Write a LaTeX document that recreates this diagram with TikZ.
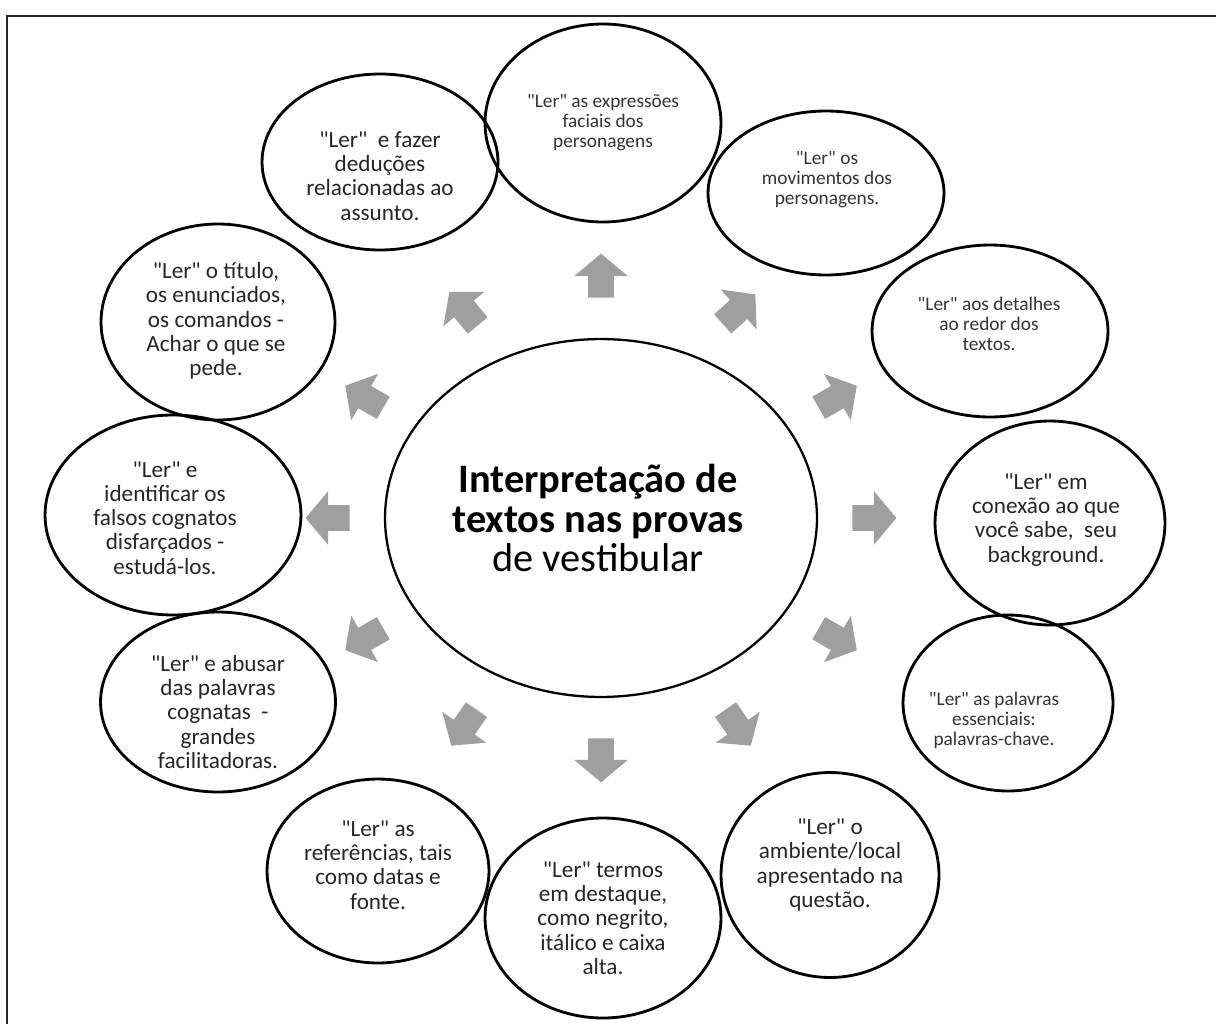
\documentclass[tikz,border=0pt]{standalone}
\usepackage{fontspec}
\setmainfont{Carlito}[Ligatures=TeXOff]
\usetikzlibrary{shapes.geometric,shapes.arrows}

\tikzset{
  bubble/.style 2 args={ellipse, draw=black, line width=1.6pt, inner sep=0pt, minimum width=#1, minimum height=#2},
  smalltxt/.style={align=center, text=black!80, font=\fontsize{11}{11.4}\selectfont},
  bigtxt/.style={align=center, text=black!85, font=\fontsize{13.2}{13.8}\selectfont},
  blockarrow/.style={single arrow, fill=gray!75, draw=none, inner xsep=0pt, inner ysep=0.25cm, minimum height=0.88cm, single arrow head extend=0.28cm, single arrow tip angle=100},
}

\begin{document}
\begin{tikzpicture}[x=0.02cm,y=-0.02cm]
\useasboundingbox (0,0) rectangle (1216,1024);
% frame
\draw[line width=1.7pt, black!85] (7,1024) -- (7,16) -- (1216,16);

% centre
\node[bubble={8.64cm}{7.16cm}, line width=1.3pt] (c) at (601,518) {};
\node[align=center, font=\fontsize{23}{22.5}\selectfont] (ct) at (598,518) {\textbf{Interpretação de}\\\textbf{textos nas provas}\\de vestibular};

% bubbles
\node[bubble={4.72cm}{3.96cm}] (e1) at (603,123) {};
\node[bubble={4.72cm}{3.28cm}] (e2) at (826,193) {};
\node[bubble={4.72cm}{3.44cm}] (e3) at (990,331) {};
\node[bubble={4.60cm}{4.08cm}] (e4) at (1050,523) {};
\node[bubble={4.20cm}{3.52cm}] (e5) at (1008,703) {};
\node[bubble={4.36cm}{4.10cm}] (e6) at (830,875) {};
\node[bubble={4.72cm}{4.00cm}] (e7) at (603,918) {};
\node[bubble={4.44cm}{3.68cm}] (e8) at (378,871) {};
\node[bubble={4.70cm}{3.60cm}] (e9) at (218,702) {};
\node[bubble={5.12cm}{4.00cm}] (e10) at (173,515) {};
\node[bubble={4.68cm}{3.92cm}] (e11) at (218,322) {};
\node[bubble={4.72cm}{3.52cm}] (e12) at (380,162) {};

% texts
\node[smalltxt] (t1) at (603,123) {"Ler" as expressões\\faciais dos\\personagens};
\node[smalltxt] (t2) at (827,180) {"Ler" os\\movimentos dos\\personagens.};
\node[smalltxt] (t3) at (989,324) {"Ler" aos detalhes\\ao redor dos\\textos.};
\node[bigtxt] (t4) at (1046,520) {"Ler" em\\conexão ao que\\você sabe,\ \ seu\\background.};
\node[smalltxt] (t5) at (994,720) {"Ler" as palavras\\essenciais:\\palavras-chave.};
\node[bigtxt] (t6) at (830,865) {"Ler" o\\ambiente/local\\apresentado na\\questão.};
\node[bigtxt] (t7) at (603,918) {"Ler" termos\\em destaque,\\como negrito,\\itálico e caixa\\alta.};
\node[bigtxt] (t8) at (378,865) {"Ler" as\\referências, tais\\como datas e\\fonte.};
\node[bigtxt] (t9) at (218,712) {"Ler" e abusar\\das palavras\\cognatas\ \ -\\grandes\\facilitadoras.};
\node[bigtxt] (t10) at (165,518) {"Ler" e\\identificar os\\falsos cognatos\\disfarçados -\\estudá-los.};
\node[bigtxt] (t11) at (216,321) {"Ler" o título,\\os enunciados,\\os comandos -\\Achar o que se\\pede.};
\node[bigtxt] (t12) at (380,176) {"Ler"\ \ e fazer\\deduções\\relacionadas ao\\assunto.};

% arrows
\foreach \p/\r [count=\i] in {90/90,60/42,30/30,0/0,-30/-30,-60/-55,-90/-90,-120/-125,-150/-150,180/180,150/150,120/130}
  \node[blockarrow, rotate=\r] (a\i) at ({601+268*cos(\p)},{518-237*sin(\p)}) {};
\end{tikzpicture}
\end{document}
